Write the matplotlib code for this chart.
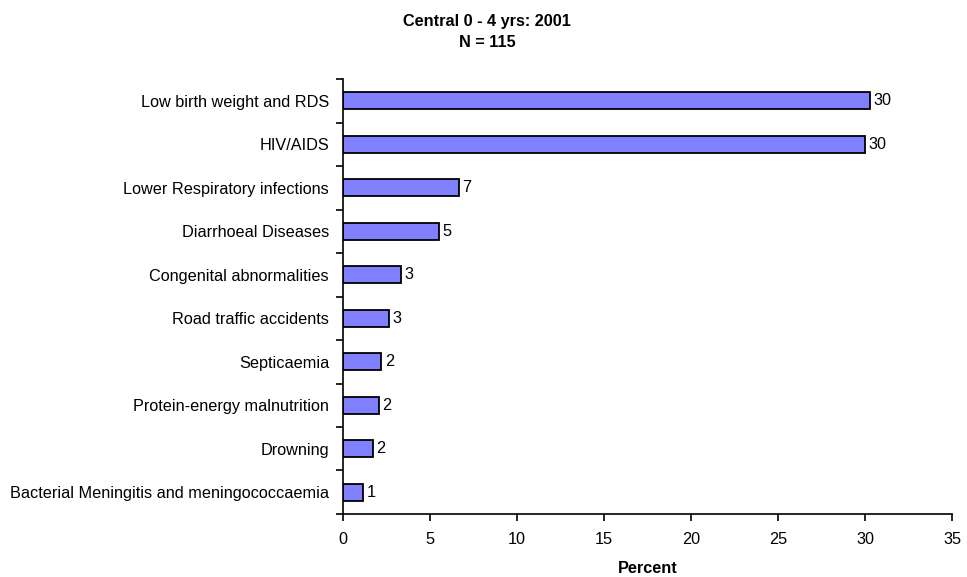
import matplotlib
matplotlib.use("Agg")
import matplotlib.pyplot as plt
import numpy as np

categories = [
    "Low birth weight and RDS",
    "HIV/AIDS",
    "Lower Respiratory infections",
    "Diarrhoeal Diseases",
    "Congenital abnormalities",
    "Road traffic accidents",
    "Septicaemia",
    "Protein-energy malnutrition",
    "Drowning",
    "Bacterial Meningitis and meningococcaemia",
]
values = [30.3, 30.0, 6.65, 5.5, 3.33, 2.63, 2.2, 2.07, 1.72, 1.15]
value_labels = ["30", "30", "7", "5", "3", "3", "2", "2", "2", "1"]
xticks = [0, 5, 10, 15, 20, 25, 30, 35]

plt.rcParams['font.family'] = ['Liberation Sans', 'DejaVu Sans']
FS = 11.7

fig = plt.figure(figsize=(9.67, 5.77), dpi=100)
ax = fig.add_axes([0.3547, 0.1092, 0.6298, 0.7538])

n = len(categories)
ypos = np.arange(n)
ax.barh(ypos, values, height=0.4, color="#8080FF", edgecolor="black", linewidth=1.3)
for y, v, lab in zip(ypos, values, value_labels):
    ax.annotate(lab, (v, y), xytext=(2.5, 0), textcoords="offset points",
                va="center", ha="left", fontsize=FS)

ax.set_ylim(n - 0.5, -0.5)
ax.set_xlim(0, 35)
ax.set_xticks(xticks)
ax.set_xticklabels([str(t) for t in xticks], fontsize=FS)
ax.set_yticks(ypos)
ax.set_yticklabels(categories, fontsize=FS)
ax.set_yticks(np.arange(n + 1) - 0.5, minor=True)
ax.tick_params(axis="y", which="major", length=0, pad=10)
ax.tick_params(axis="y", which="minor", length=5, width=1.2, direction="out")
ax.tick_params(axis="x", which="major", length=5, width=1.2, direction="out", pad=8)
for s in ["top", "right"]:
    ax.spines[s].set_visible(False)
for s in ["left", "bottom"]:
    ax.spines[s].set_linewidth(1.2)

ax.set_xlabel("Percent", fontsize=FS, fontweight="bold", labelpad=10)
fig.text(0.504, 0.962, "Central 0 - 4 yrs: 2001", ha="center", va="center",
         fontsize=FS, fontweight="bold")
fig.text(0.504, 0.927, "N = 115", ha="center", va="center",
         fontsize=FS, fontweight="bold")

fig.savefig("out.png", dpi=100)
